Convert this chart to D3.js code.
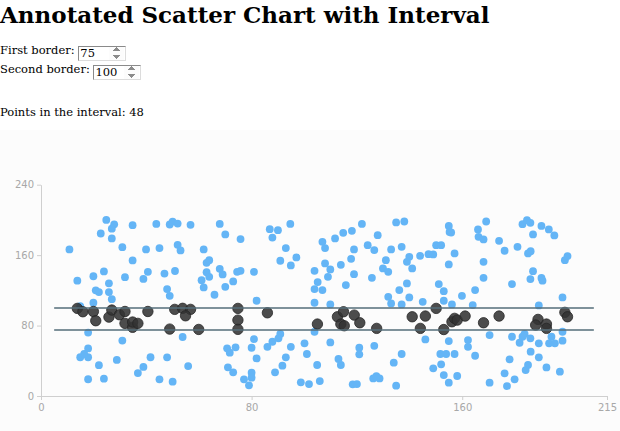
<!DOCTYPE html>
<html>
<head>
<meta charset="utf-8">
<script src="https://cdn.jsdelivr.net/npm/d3@7"></script>
<style>
  body { margin: 0; font-family: "DejaVu Serif", serif; font-size: 11.5px; color: #000; background: #fff; }
  h1 { font-size: 23px; margin: 0; height: 30px; line-height: 30px; white-space: nowrap; }
  .controls { margin-top: 11px; }
  .controls div { height: 19px; line-height: 19px; }
  .controls input { font-family: "DejaVu Serif", serif; font-size: 11.5px; width: 48px; height: 15px;
    box-sizing: border-box; padding: 0 1px; border: 1px solid #dcdcdc; border-top-color: #8a8a8a;
    border-left-color: #8a8a8a; vertical-align: -3px; background: #fff; }
  .controls input::-webkit-inner-spin-button { opacity: 1; }
  .count { margin: 23.5px 0 0 0; height: 19px; line-height: 19px; }
  .chart { margin-top: 8.5px; }
  .axis text { font-family: "DejaVu Sans", sans-serif; font-size: 10px; fill: #a8a8a8; }
  .axis path, .axis line { stroke: #cfcfcf; }
</style>
</head>
<body>
<h1>Annotated Scatter Chart with Interval</h1>
<div class="controls">
  <div>First border: <input id="first" type="number" value="75"></div>
  <div>Second border: <input id="second" type="number" value="100"></div>
</div>
<p class="count">Points in the interval: <span id="cnt"></span></p>
<div class="chart"></div>
<script>
// point positions
var xValues = [
  10.8,13.8,24.8,27.8,26.9,22.7,26.9,34.8,30.9,39.9,34.8,23.9,19.9,25.8,31.9,38.9,40.6,20.8,22,25.8,
  26.9,19.9,14.9,17.9,30.9,17.9,14.9,17.9,16.4,28.8,22,38.9,36.8,41.6,17.9,23.9,
  13.8,15.9,19.9,20.8,25.8,26.9,29.8,31.9,31.9,34.8,34.8,36.8,40.6,
  43.8,48.9,50.0,51.9,56.8,67.9,70,75.8,45,51.9,53,61.8,62.9,63.9,46.9,50.9,62.9,63.9,61,61.8,
  67.9,69,70,65.9,73,74.5,75.8,80.9,47.9,48.9,81.9,53.8,47.9,55.9,45,50,70.7,71.7,73.9,80,
  80.9,81.9,71,73,80,80,77.1,79,
  48.9,50.8,53.8,56.8,54.9,59.9,74.8,74.8,74.8,
  86.9,90,87.9,94.7,93,97,90.9,94.9,121.9,114.8,118.1,111.7,106.9,107.9,124.1,126.6,118.9,117.8,
  113.9,107.9,109.9,103.9,109,118.9,105.1,103.9,106.9,115.8,125.7,103.9,109.9,90.9,90.2,87.9,86,
  94.9,93,91.7,88.9,100.1,101,103.9,104.9,109.9,113,113.9,120.9,120.9,126.6,98.7,101.8,105.9,
  118.4,120,126.2,
  86,105,112.6,114.9,113.9,115.2,119,121.1,127.5,
  127.9,134.9,138,133,137,131,129.9,131.9,139,139.9,141,144,147.2,149,150.1,152,154.9,155.2,155.8,
  157.1,154.9,166,169.1,166.2,168.1,168.1,168.1,139,136.1,131.9,133,137,139.9,145,151.1,153,153,
  156.1,159.9,164.9,164,170.4,146,154.9,162.2,162.2,164.9,137,134,151.7,153.9,157.1,152,149,153,
  158.1,154.9,134.9,170.4,128.6,127.4,
  141,146,144.1,150.1,153,156.1,157.1,158.1,161.1,168.1,
  174,176.1,181,182.9,184.6,185.9,186.9,190.1,192.9,195,185,186,199,200,186.9,185.9,190.1,190.5,
  178.9,198.1,189.1,178.9,183.7,182.9,181.8,185.9,189.1,193.9,193,195.2,198.1,198.1,186,189.1,178,
  185,184.1,192,197.1,176.1,179.9,177,
  174,188.8,187.9,192,192,199,200
];
var yValues = [
  166.5,131,200,195,190,184.6,179,194,169,166.5,154,141.5,136,128,135,133,141,120,118,118,
  110,106,102,72,63,54,44,44,47.7,41,35,33,26,44,19,19.7,
  99.5,95.7,96,85.5,89.6,97.6,92.3,96,82.5,78,84,82.5,96,
  195.5,194.8,198.1,195.9,194.4,195.5,183.5,178.2,168,171.7,165.3,166.5,151.3,154.3,139,142,140.7,135.4,131.6,123.3,
  144.5,138.1,124,115,130.1,141,142.2,141,121.4,113.8,108.2,67,43.9,34,18.9,16.3,54.1,49.2,55.3,54.8,
  64.7,42.7,32.6,26.9,26.4,20.8,18.9,12.1,
  76,98.4,99.6,98.4,91.1,75.6,99.5,86.2,75.7,
  189.5,188.4,180,195.5,168,157.4,153.6,148.3,195.5,185.3,187.6,179,175.1,168,171.3,165.7,166.5,155.8,
  149,150.6,143.8,142.2,135.4,138.4,129.4,121.4,120.3,126,134.2,105.9,104,70.4,65.5,61.6,55.9,
  55.9,43.9,34.4,26.9,59.8,47.7,73,35.2,60.9,42,35.2,54.8,47.3,57,15.5,13.6,17,
  13.3,13.5,20,
  94.5,81.7,90,95.7,81.7,79.8,91.9,83.2,76.8,
  182.7,197.1,198.2,166.5,169.4,154.3,144.9,141,152.4,158.1,144.9,159.2,161.1,160.8,171.3,171.3,193.2,186.4,185.7,
  161.9,149.4,189.2,198.2,180.8,177.8,152.4,134.2,127.9,120.3,112.7,105.2,104,112,107,127.1,119.1,108.2,
  104,113.8,120.3,103.3,69.2,64.3,62.4,63.5,55.9,45.7,47.7,37.8,47.7,47.7,47.7,36,31.4,23.8,
  22.7,15.1,11.7,15.1,20,22.5,
  90,90.8,76.8,99.5,75.5,84.3,88.2,86.2,90.8,83.2,
  176.3,165,169.4,195.2,199.7,196.7,183.5,193.2,189.2,182.4,161.9,164.5,154.3,158.9,141.8,132.8,134,131,
  127.1,112,102.9,67.3,70.4,67.3,60.5,65.5,59.8,67.3,59.8,59.8,73,62.8,50.3,43.9,41.6,
  35.2,29.5,32.5,27.6,25.7,18.9,11.3,
  90.8,87,80.6,81.7,76.8,95,90
];
var xTicks = [0, 80, 160, 215];
var yTicks = [0, 80, 160, 240];
var lineExtent = [5, 210];
var firstBorder = 75;
var secondBorder = 100;

var w = 620;
var h = 301;
var margin = {top: 54.7, right: 13, bottom: 35, left: 41};

var points = xValues.map(function(d, i) { return {x: d, y: yValues[i]}; });

var svg = d3.select(".chart")
            .append("svg")
            .attr("width", w)
            .attr("height", h)
            .style("display", "block")
            .style("background", "#fcfcfc");

var xScale = d3.scaleLinear()
    .domain([0, 215])
    .range([margin.left, w - margin.right]);
var yScale = d3.scaleLinear()
    .domain([0, 240])
    .range([h - margin.bottom, margin.top]);

svg.append("g")
    .attr("class", "axis")
    .attr("transform", "translate(0," + (h - margin.bottom) + ")")
    .call(d3.axisBottom(xScale).tickValues(xTicks).tickSize(4).tickSizeOuter(0).tickPadding(4));
svg.append("g")
    .attr("class", "axis")
    .attr("transform", "translate(" + margin.left + ",0)")
    .call(d3.axisLeft(yScale).tickValues(yTicks).tickSize(4).tickSizeOuter(0).tickPadding(3));

var dots = svg.append("g");
var borders = svg.append("g");

function update()
{
    var lo = Math.min(firstBorder, secondBorder);
    var hi = Math.max(firstBorder, secondBorder);
    var inside = function(d) { return d.y >= lo && d.y <= hi; };

    // blue ones first, dark ones on top
    var sorted = points.slice().sort(function(a, b) { return inside(a) - inside(b); });
    var c = dots.selectAll("circle").data(sorted);
    c.enter().append("circle").merge(c)
        .attr("cx", function(d) { return xScale(d.x); })
        .attr("cy", function(d) { return yScale(d.y); })
        .attr("r", function(d) { return inside(d) ? 5.2 : 3.9; })
        .attr("fill", function(d) { return inside(d) ? "#333333" : "#64b5f6"; })
        .attr("fill-opacity", function(d) { return inside(d) ? 0.88 : 1; })
        .attr("stroke", function(d) { return inside(d) ? "#262626" : "none"; })
        .attr("stroke-width", 0.8);

    var l = borders.selectAll("line").data([firstBorder, secondBorder]);
    l.enter().append("line").merge(l)
        .attr("x1", xScale(lineExtent[0]))
        .attr("x2", xScale(lineExtent[1]))
        .attr("y1", function(d) { return yScale(d); })
        .attr("y2", function(d) { return yScale(d); })
        .attr("stroke", "#546e7a")
        .attr("stroke-width", 1.6);

    document.getElementById("cnt").innerText = points.filter(inside).length;
}

document.getElementById("first").addEventListener("input", function() {
    firstBorder = +this.value; update();
});
document.getElementById("second").addEventListener("input", function() {
    secondBorder = +this.value; update();
});
update();
</script>
</body>
</html>
